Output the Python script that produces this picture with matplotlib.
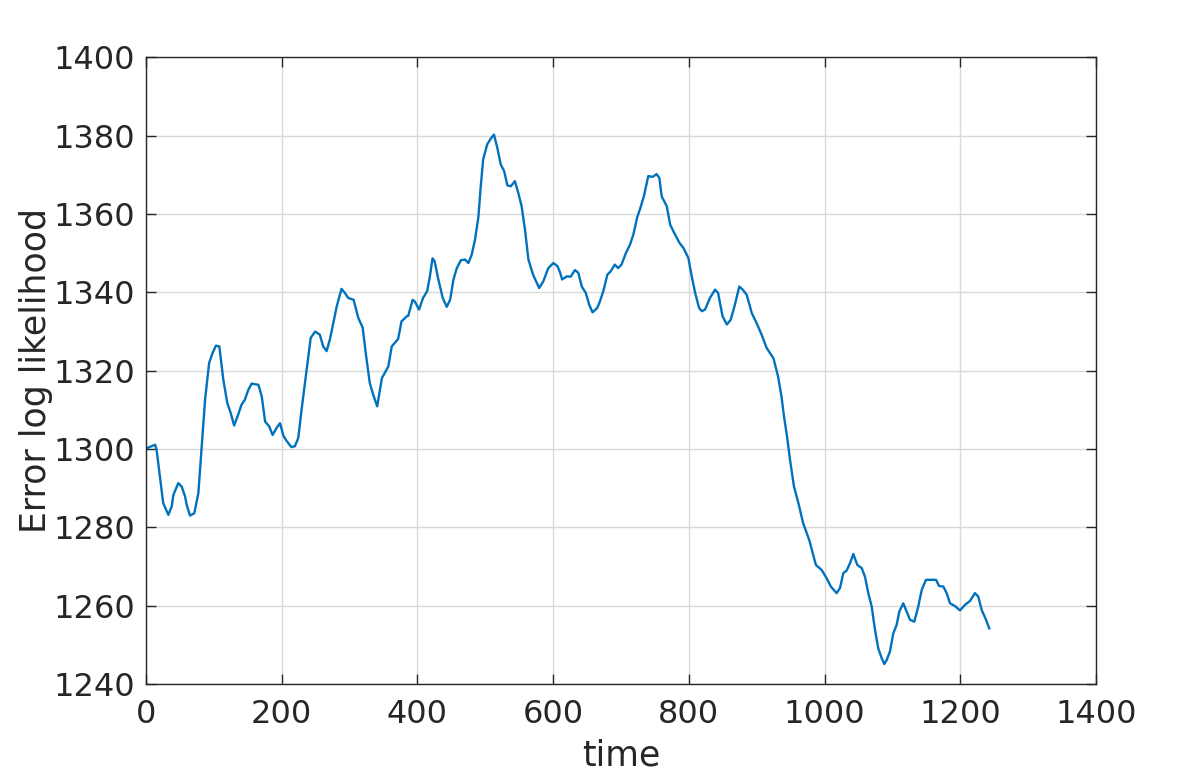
import numpy as np
import matplotlib
matplotlib.use("Agg")
import matplotlib.pyplot as plt

# values
time = [1, 13.4, 15.4, 25.3, 32.9, 37.8, 40.3, 47.6, 52.6, 57.5, 60, 64.8, 71.1, 77.1,
        82, 87, 93, 98, 103, 108, 113.9, 119.8, 124.8, 129.8, 134.8, 140.7, 145.7,
        150.7, 155.6, 165.6, 170.6, 175.5, 181.5, 186.5, 192.5, 197.4, 202.4, 207.4,
        214.3, 219.3, 224.3, 229.2, 234.2, 239.2, 242.7, 249.2, 256.1, 261.1, 266.1,
        271, 276, 281, 288, 292.9, 297.9, 305.9, 312.8, 319.3, 323.8, 329.7, 334.7,
        340.7, 347.6, 357.1, 362.1, 371.5, 376.5, 384.4, 386.4, 392.9, 396.4, 402.3,
        408.3, 414.3, 418.3, 422.2, 425.2, 430.8, 437.2, 443.1, 448.1, 453.1, 458,
        464, 470, 475, 479.9, 484.9, 489.9, 492.9, 496.8, 502.8, 507.8, 512.7, 517.7,
        522.7, 527.7, 532.6, 537.6, 543.6, 548.6, 553.5, 558.5, 563.5, 570.4, 579.4,
        585.4, 592.8, 600.3, 606.3, 610.2, 613.2, 620.2, 625.8, 632.1, 637.1, 642.1,
        648, 653, 658, 664.9, 668.9, 673.9, 679.8, 684.8, 690.8, 695.8, 700.7, 707.3,
        713.3, 718.2, 723.6, 728.6, 733.6, 740.2, 746.5, 752.5, 756.5, 760, 767.4,
        772.4, 778.3, 786.3, 791.8, 799.2, 804.2, 809.2, 815.1, 819.1, 823.8, 831.1,
        838.5, 843, 849.6, 855.9, 861.6, 867.9, 874.3, 879.3, 885.2, 892.7, 899.7,
        907.2, 914.6, 924.6, 931.5, 936.5, 940.2, 945, 949, 954.9, 961.4, 968.3,
        977.3, 987.2, 995.7, 1003.1, 1009.1, 1017.8, 1022.7, 1027.6, 1032.6, 1037.4,
        1042.3, 1048.2, 1054.7, 1059.5, 1064.4, 1069.4, 1074.3, 1079.1, 1084.1, 1088,
        1091.5, 1096.3, 1101.2, 1106.2, 1110.1, 1115.9, 1120.9, 1125.9, 1132.2,
        1138.1, 1143.1, 1149.4, 1157.8, 1164.2, 1168.9, 1174.9, 1179.9, 1184.8,
        1192.1, 1199.5, 1206.9, 1214.3, 1221.6, 1226.5, 1231.5, 1237.9, 1242.7]
loglik = [1300.2, 1301.1, 1300, 1286.2, 1283.2, 1285.3, 1288.3, 1291.3, 1290.4, 1287.9,
          1285.7, 1283, 1283.6, 1288.7, 1300.7, 1312.6, 1322, 1324.5, 1326.4, 1326.2,
          1317.7, 1311.7, 1309.2, 1306, 1308.3, 1311.3, 1312.6, 1315.1, 1316.7, 1316.4,
          1313.4, 1307, 1305.8, 1303.6, 1305.4, 1306.6, 1303.4, 1302, 1300.5, 1300.7,
          1302.8, 1310, 1316.9, 1323.7, 1328.4, 1330, 1329.2, 1326.2, 1325, 1328,
          1332.2, 1336.4, 1340.9, 1339.9, 1338.6, 1338.1, 1333.5, 1331, 1324.5, 1316.9,
          1313.9, 1310.9, 1318.1, 1321.1, 1326.2, 1328.1, 1332.6, 1333.9, 1334, 1338.1,
          1337.6, 1335.6, 1338.6, 1340.3, 1344.1, 1348.7, 1348, 1343.3, 1338.6, 1336.3,
          1338.1, 1343.3, 1346.2, 1348.2, 1348.4, 1347.5, 1349.6, 1353.5, 1359.4,
          1366.3, 1373.9, 1377.8, 1379.2, 1380.3, 1376.9, 1372.7, 1371, 1367.3, 1367.1,
          1368.4, 1365.4, 1362, 1356, 1348.4, 1344.5, 1341.1, 1342.8, 1346.2, 1347.5,
          1346.7, 1345.1, 1343.3, 1344.1, 1344, 1345.7, 1345, 1341.5, 1339.9, 1336.9,
          1334.9, 1336, 1337.7, 1340.3, 1344.5, 1345.4, 1347.1, 1346.2, 1347.1, 1350.1,
          1352.2, 1354.8, 1359, 1361.6, 1364.5, 1369.7, 1369.5, 1370.2, 1369.2, 1364.5,
          1362, 1357.3, 1355.2, 1352.6, 1351.4, 1348.8, 1344.1, 1339.9, 1336, 1335.2,
          1335.6, 1338.6, 1340.7, 1339.9, 1333.9, 1331.8, 1333, 1336.9, 1341.5, 1340.7,
          1339.4, 1334.7, 1332.2, 1329.2, 1325.8, 1323.2, 1318.5, 1313.4, 1308.3,
          1302.8, 1297.3, 1290.4, 1286.2, 1281.1, 1276.8, 1270.4, 1269.1, 1267, 1264.9,
          1263.2, 1264.5, 1268.3, 1269, 1270.8, 1273.2, 1270.4, 1269.6, 1267.4, 1263.2,
          1259.8, 1253.8, 1249.1, 1246.6, 1245.1, 1246.1, 1248.3, 1252.9, 1255.1,
          1258.5, 1260.6, 1258.5, 1256.4, 1255.9, 1259.8, 1264, 1266.6, 1266.6, 1266.6,
          1265, 1264.9, 1263.2, 1260.6, 1259.9, 1258.8, 1260.2, 1261.2, 1263.2, 1262.3,
          1258.9, 1256.4, 1254.2]

xticks = [0, 200, 400, 600, 800, 1000, 1200, 1400]
yticks = [1240, 1260, 1280, 1300, 1320, 1340, 1360, 1380, 1400]

plt.rcParams['font.family'] = 'DejaVu Sans'
dark = '#262626'

fig = plt.figure(figsize=(11.96, 7.74), dpi=100)
ax = fig.add_axes([0.1221, 0.1163, 0.7943, 0.8095])

ax.plot(time, loglik, color='#0072BD', linewidth=1.7)

ax.set_xlim(0, 1400)
ax.set_ylim(1240, 1400)
ax.set_xticks(xticks)
ax.set_yticks(yticks)
ax.tick_params(direction='in', length=7, width=1, colors=dark, labelsize=23,
               top=True, right=True)
ax.tick_params(axis='x', pad=11)
ax.tick_params(axis='y', pad=8)
ax.grid(True, color='#d9d9d9', linewidth=1)
ax.set_axisbelow(True)
for s in ax.spines.values():
    s.set_color(dark)
    s.set_linewidth(1)

ax.set_xlabel('time', fontsize=25, color=dark, labelpad=6)
ax.set_ylabel('Error log likelihood', fontsize=25, color=dark, labelpad=0)

fig.savefig('out.png', dpi=100)
